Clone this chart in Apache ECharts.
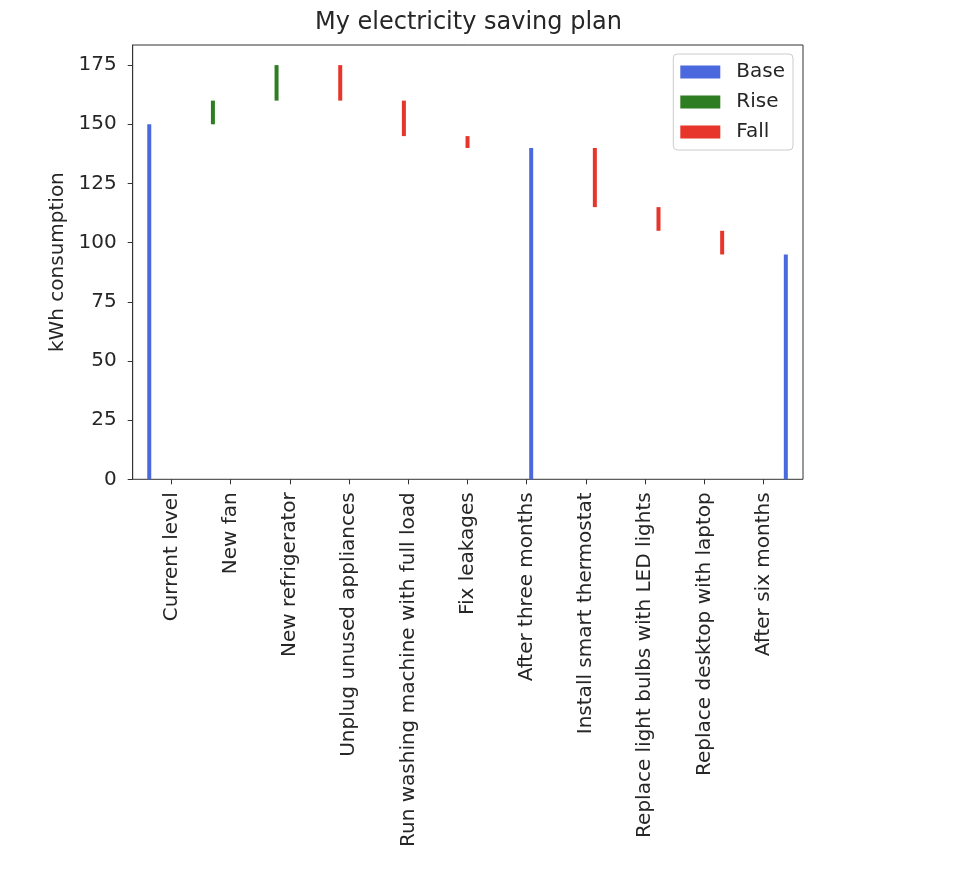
<!DOCTYPE html>
<html>
<head>
<meta charset="utf-8">
<script src="https://cdn.jsdelivr.net/npm/echarts@6/dist/echarts.min.js"></script>
<style>html,body{margin:0;padding:0;background:#fff}#c{width:974px;height:872px}</style>
</head>
<body>
<div id="c"></div>
<script>
const categories = ['Current level','New fan','New refrigerator','Unplug unused appliances','Run washing machine with full load','Fix leakages','After three months','Install smart thermostat','Replace light bulbs with LED lights','Replace desktop with laptop','After six months'];
const kinds = ['Base','Rise','Rise','Fall','Fall','Fall','Base','Fall','Fall','Fall','Base'];
const barStart = [0,150,160,175,160,145,0,140,115,105,0];
const barEnd = [150,160,175,160,145,140,140,115,105,95,95];
const yTicks = [0,25,50,75,100,125,150,175];
const seriesNames = ['Base','Rise','Fall'];
const colors = {Base:'#4a69de', Rise:'#2f7d22', Fall:'#e8352b'};

const FONT = 'DejaVu Sans';
const TXT = '#262626';
const FS = 20;

function renderBar(params, api){
  const x = api.value(0), lo = api.value(1), hi = api.value(2);
  const pTop = api.coord([x, hi]);
  const pBot = api.coord([x, lo]);
  const w = 4;
  return {type:'rect', shape:{x:pTop[0]-w/2, y:pTop[1], width:w, height:pBot[1]-pTop[1]}, style:{fill: api.visual('color')}};
}

const series = seriesNames.map(name => ({
  name, type:'custom', xAxisIndex:0, yAxisIndex:0,
  itemStyle:{color:colors[name]},
  renderItem: renderBar,
  encode:{x:0, y:[1,2]},
  data: categories.map((c,i)=> kinds[i]===name ? [i, barStart[i], barEnd[i]] : null).filter(d=>d)
}));

const chart = echarts.init(document.getElementById('c'), null, {renderer:'canvas'});
chart.setOption({
  animation:false,
  backgroundColor:'#fff',
  title:{text:'My electricity saving plan', left:315, top:11, padding:0,
    textStyle:{fontFamily:FONT, fontSize:24, fontWeight:'normal', color:TXT}},
  legend:{data:seriesNames.map(n=>({name:n, icon:'rect'})), orient:'vertical', right:181, top:54,
    itemWidth:40, itemHeight:13, itemGap:10, padding:[8,8,8,7],
    borderColor:'#cccccc', borderWidth:1, borderRadius:4, backgroundColor:'#fff',
    textStyle:{fontFamily:FONT, fontSize:FS, color:TXT, padding:[0,0,0,11]}},
  grid:[
    {left:132.7, right:171, top:45, bottom:392.7, show:true, borderColor:'#333', borderWidth:1, backgroundColor:'transparent'},
    {left:141.9, width:651.2, top:45, bottom:392.7, show:false}
  ],
  xAxis:[
    {type:'value', gridIndex:0, min:-0.26, max:10.27, axisLine:{show:false, onZero:false}, axisTick:{show:false}, axisLabel:{show:false}, splitLine:{show:false}},
    {type:'category', gridIndex:1, data:categories, boundaryGap:true,
      axisLine:{show:false, onZero:false}, axisTick:{show:true, alignWithLabel:true, length:5, lineStyle:{color:'#333'}},
      axisLabel:{rotate:90, margin:13, fontFamily:FONT, fontSize:FS, color:TXT, interval:0}}
  ],
  yAxis:[
    {type:'value', gridIndex:0, min:0, max:183.5, name:'kWh consumption', nameLocation:'middle', nameRotate:90, nameGap:45,
      nameTextStyle:{fontFamily:FONT, fontSize:FS, color:TXT},
      axisLine:{show:true, onZero:false, lineStyle:{color:'#333'}}, splitLine:{show:false},
      axisTick:{show:true, length:5, lineStyle:{color:'#333'}, customValues:yTicks},
      axisLabel:{fontFamily:FONT, fontSize:FS, color:TXT, margin:16, customValues:yTicks}},
    {type:'value', gridIndex:1, show:false}
  ],
  series
});
</script>
</body>
</html>
